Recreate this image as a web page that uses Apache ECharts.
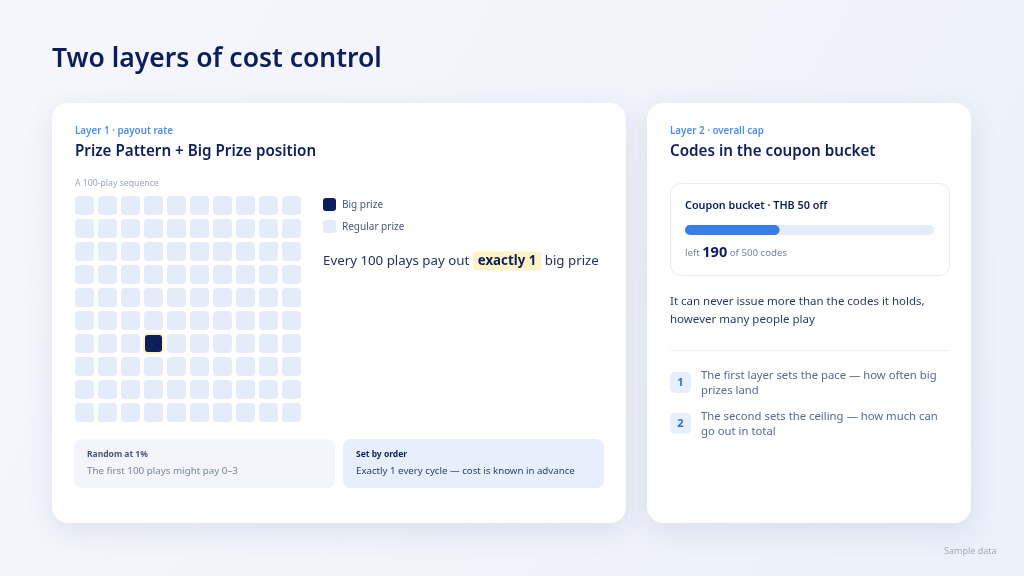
<!DOCTYPE html>
<html>
<head>
<meta charset="utf-8">
<script src="https://cdn.jsdelivr.net/npm/echarts@6/dist/echarts.min.js"></script>
<style>
  html, body { margin: 0; padding: 0; }
  #chart { width: 1024px; height: 576px; }
</style>
</head>
<body>
<div id="chart"></div>
<script>
// data
var gridCols = [0, 1, 2, 3, 4, 5, 6, 7, 8, 9];
var gridRows = [0, 1, 2, 3, 4, 5, 6, 7, 8, 9];
var bigPrizeCell = [3, 6]; // [col, row]
var couponTotal = 500;
var couponLeft = 190;
var legendNames = ['Big prize', 'Regular prize'];
var compareBoxes = [
    { title: 'Random at 1%', text: 'The first 100 plays might pay 0\u20133' },
    { title: 'Set by order', text: 'Exactly 1 every cycle \u2014 cost is known in advance' }
];
var steps = [
    ['The first layer sets the pace \u2014 how often big', 'prizes land'],
    ['The second sets the ceiling \u2014 how much can', 'go out in total']
];

var FONT = '"Noto Sans", "Open Sans", sans-serif';
var NAVY = '#0e1e5b';
var CELL = '#e5ecf9';

var chart = echarts.init(document.getElementById('chart'));

// 100 cells, one is the big prize
var cellData = [];
gridRows.forEach(function (r) {
    gridCols.forEach(function (c) {
        var big = (c === bigPrizeCell[0] && r === bigPrizeCell[1]) ? 1 : 0;
        cellData.push([c, r, big]);
    });
});

function txt(x, y, text, size, weight, color, extra) {
    var s = {
        text: text,
        font: weight + ' ' + size + 'px ' + FONT,
        fill: color,
        verticalAlign: 'middle'
    };
    if (extra) Object.assign(s, extra);
    return { type: 'text', x: x, y: y, z: 10, style: s };
}

function card(x, y, w, h) {
    return {
        type: 'rect', z: 1,
        shape: { x: x, y: y, width: w, height: h, r: 16 },
        style: { fill: '#ffffff', shadowBlur: 28, shadowOffsetY: 8, shadowColor: 'rgba(40,60,120,0.10)' }
    };
}

var graphics = [
    txt(52, 59, 'Two layers of cost control', 26.5, 600, NAVY),
    card(52, 103, 574, 420),
    card(647, 103, 324, 420),

    // layer 1
    txt(75, 131, 'Layer 1 \u00b7 payout rate', 9.8, 600, '#4d8ef0'),
    txt(75, 152, 'Prize Pattern + Big Prize position', 15.2, 600, NAVY),
    txt(75, 184, 'A 100-play sequence', 8.7, 400, '#9ba4b8'),

    { type: 'rect', z: 10, shape: { x: 323, y: 198, width: 13, height: 13, r: 3 }, style: { fill: NAVY } },
    txt(342, 205, legendNames[0], 10, 400, '#4a5678'),
    { type: 'rect', z: 10, shape: { x: 323, y: 220, width: 13, height: 13, r: 3 }, style: { fill: CELL } },
    txt(342, 227, legendNames[1], 10, 400, '#4a5678'),

    {
        type: 'text', x: 323, y: 261, z: 10,
        style: {
            text: '{n|Every 100 plays pay out }{h|exactly 1}{n| big prize}',
            verticalAlign: 'middle',
            rich: {
                n: { font: '400 13.3px ' + FONT, fill: '#24335e' },
                h: { font: '700 13.3px ' + FONT, fill: NAVY, backgroundColor: '#fdf3c6', padding: [3, 5, 3, 5], borderRadius: 3 }
            }
        }
    },

    { type: 'rect', z: 5, shape: { x: 74, y: 439, width: 261, height: 49, r: 8 }, style: { fill: '#f3f5fa' } },
    txt(87, 455, compareBoxes[0].title, 8.5, 700, '#4a5678'),
    txt(87, 471, compareBoxes[0].text, 9.8, 400, '#7a849c'),
    { type: 'rect', z: 5, shape: { x: 343, y: 439, width: 261, height: 49, r: 8 }, style: { fill: '#e7effc' } },
    txt(356, 455, compareBoxes[1].title, 8.5, 700, NAVY),
    txt(356, 471, compareBoxes[1].text, 9.7, 400, '#2c3d6b'),

    // layer 2
    txt(670, 131, 'Layer 2 \u00b7 overall cap', 9.8, 600, '#4d8ef0'),
    txt(670, 152, 'Codes in the coupon bucket', 15.2, 600, NAVY),
    { type: 'rect', z: 5, shape: { x: 670.5, y: 183.5, width: 279, height: 92, r: 10 }, style: { fill: '#ffffff', stroke: '#e6ebf3', lineWidth: 1 } },
    txt(685, 206, 'Coupon bucket \u00b7 THB 50 off', 10.8, 600, NAVY),
    {
        type: 'text', x: 685, y: 253, z: 10,
        style: {
            text: '{g|left }{b|' + couponLeft + '}{g| of ' + couponTotal + ' codes}',
            verticalAlign: 'middle',
            rich: {
                g: { font: '400 9.7px ' + FONT, fill: '#7a849c' },
                b: { font: '700 14.5px ' + FONT, fill: NAVY }
            }
        }
    },
    txt(670, 302, 'It can never issue more than the codes it holds,', 11.5, 400, '#2c3a63'),
    txt(670, 320, 'however many people play', 11.5, 400, '#2c3a63'),
    { type: 'line', z: 5, shape: { x1: 670, y1: 350.5, x2: 949, y2: 350.5 }, style: { stroke: '#edf0f6', lineWidth: 1 } },

    txt(944, 551, 'Sample data', 9, 400, '#a3abbd')
];

steps.forEach(function (lines, i) {
    var y0 = 372 + i * 41;
    graphics.push({ type: 'rect', z: 5, shape: { x: 670, y: y0, width: 21, height: 21, r: 5 }, style: { fill: '#e7effc' } });
    graphics.push(txt(680.5, y0 + 10.5, String(i + 1), 11, 700, '#2f6fdc', { align: 'center' }));
    graphics.push(txt(701, y0 + 4, lines[0], 11.3, 400, '#5b6991'));
    graphics.push(txt(701, y0 + 19, lines[1], 11.3, 400, '#5b6991'));
});

var option = {
    backgroundColor: new echarts.graphic.LinearGradient(0, 0, 1, 1, [
        { offset: 0, color: '#f5f7fc' },
        { offset: 1, color: '#ecf0f9' }
    ]),
    animation: false,
    graphic: graphics,
    grid: [
        { left: 73, top: 194, width: 230, height: 230 },
        { left: 685, top: 225, width: 249, height: 10 }
    ],
    xAxis: [
        { gridIndex: 0, type: 'category', data: gridCols, show: false },
        { gridIndex: 1, type: 'value', min: 0, max: couponTotal, show: false }
    ],
    yAxis: [
        { gridIndex: 0, type: 'category', data: gridRows, inverse: true, show: false },
        { gridIndex: 1, type: 'category', data: ['codes'], show: false }
    ],
    series: [
        {
            type: 'custom',
            xAxisIndex: 0, yAxisIndex: 0,
            z: 20,
            data: cellData,
            renderItem: function (params, api) {
                var p = api.coord([api.value(0), api.value(1)]);
                var big = api.value(2) === 1;
                var s = 19;
                return {
                    type: 'rect',
                    shape: { x: p[0] - s / 2, y: p[1] - s / 2, width: s, height: s, r: 4 },
                    style: big
                        ? { fill: NAVY, stroke: '#fff2bd', lineWidth: 2 }
                        : { fill: CELL }
                };
            }
        },
        {
            type: 'bar',
            xAxisIndex: 1, yAxisIndex: 1,
            z: 20,
            data: [couponLeft],
            barWidth: 10,
            showBackground: true,
            backgroundStyle: { color: '#e6edf9', borderRadius: 5 },
            itemStyle: { color: '#3b7de8', borderRadius: 5 }
        }
    ]
};

chart.setOption(option);
</script>
</body>
</html>
